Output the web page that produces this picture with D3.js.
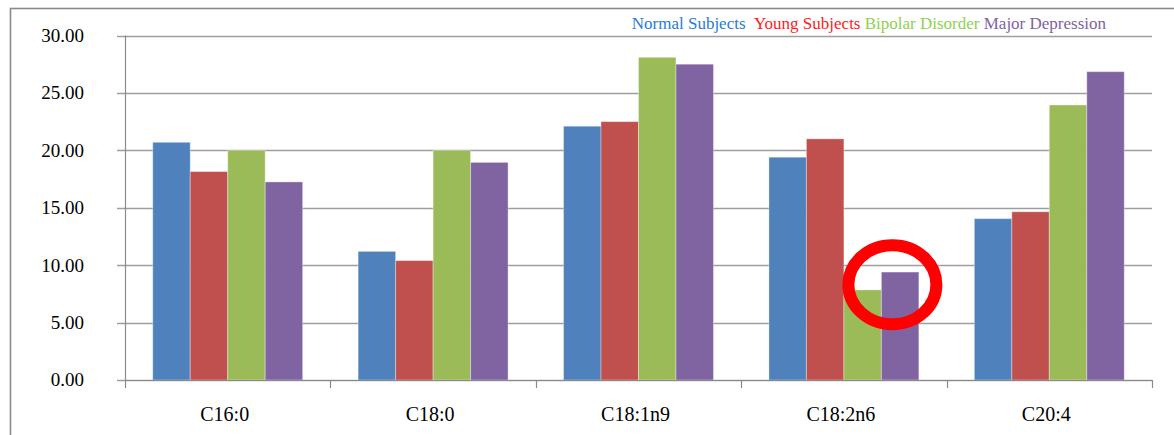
<!DOCTYPE html>
<html>
<head>
<meta charset="utf-8">
<script src="https://cdn.jsdelivr.net/npm/d3@7/dist/d3.min.js"></script>
<style>
  html, body { margin: 0; padding: 0; background: #fff; }
  svg { display: block; }
</style>
</head>
<body>
<svg id="chart" width="1174" height="435"></svg>
<script>
// Fatty acid composition (%) by subject group
const categories = ["C16:0", "C18:0", "C18:1n9", "C18:2n6", "C20:4"];
const seriesNames = ["Normal Subjects", "Young Subjects", "Bipolar Disorder", "Major Depression"];
const normalSubjects   = [20.70, 11.20, 22.10, 19.40, 14.05];
const youngSubjects    = [18.15, 10.40, 22.50, 21.00, 14.65];
const bipolarDisorder  = [20.00, 20.00, 28.10,  7.85, 23.95];
const majorDepression  = [17.25, 18.95, 27.50,  9.40, 26.85];
const yTicks = [0, 5, 10, 15, 20, 25, 30];

// Highlight ring around the C18:2n6 disorder bars
const highlight = { category: "C18:2n6", value: 8.3 };

const seriesValues = [normalSubjects, youngSubjects, bipolarDisorder, majorDepression];
const barColors = ["#4F81BD", "#C0504D", "#9BBB59", "#8064A2"];
const legendColors = ["#2A7BD1", "#FF1A1A", "#8ED14F", "#8064A2"];
const serifFont = "'Liberation Serif', 'Times New Roman', 'DejaVu Serif', serif";

const svg = d3.select("#chart").attr("font-family", serifFont);
const plotLeft = 125, plotRight = 1152, plotTop = 35.5, plotBottom = 380;

// Outer chart frame
svg.append("rect")
  .attr("x", 10.5).attr("y", 8.5)
  .attr("width", 1300).attr("height", 600)
  .attr("fill", "none").attr("stroke", "#8a8a8a").attr("stroke-width", 1.6);

const x0 = d3.scaleBand().domain(categories).range([plotLeft, plotRight]).padding(0);
const x1 = d3.scaleBand().domain(seriesNames).range([0, x0.bandwidth()])
  .paddingInner(0).paddingOuter(0.74);
const y = d3.scaleLinear().domain([0, 30]).range([plotBottom, plotTop]);

// Horizontal gridlines
svg.append("g").selectAll("line").data(yTicks).join("line")
  .attr("x1", plotLeft - 8).attr("x2", plotRight)
  .attr("y1", d => Math.round(y(d)) + 0.5).attr("y2", d => Math.round(y(d)) + 0.5)
  .attr("stroke", "#9e9e9e").attr("stroke-width", 1.3);

// Y-axis line
svg.append("line")
  .attr("x1", plotLeft + 0.5).attr("x2", plotLeft + 0.5)
  .attr("y1", y(30)).attr("y2", plotBottom)
  .attr("stroke", "#8a8a8a").attr("stroke-width", 1.2);

// Y tick labels
svg.append("g").selectAll("text").data(yTicks).join("text")
  .attr("x", 84).attr("y", d => y(d))
  .attr("dy", "0.34em")
  .attr("text-anchor", "end")
  .attr("font-family", serifFont)
  .attr("font-size", 19)
  .attr("fill", "#000")
  .text(d3.format(".2f"));

// Bars
const groups = svg.append("g").selectAll("g").data(categories).join("g")
  .attr("transform", c => `translate(${x0(c)},0)`);
groups.selectAll("rect")
  .data((c, i) => seriesNames.map((s, j) => ({ s, j, v: seriesValues[j][i] })))
  .join("rect")
  .attr("x", d => x1(d.s))
  .attr("width", x1.bandwidth())
  .attr("y", d => y(d.v))
  .attr("height", d => plotBottom - y(d.v))
  .attr("fill", d => barColors[d.j])
  .attr("stroke", "rgba(255,255,255,0.35)")
  .attr("stroke-width", 1);

// X-axis baseline and category boundary ticks
svg.append("line")
  .attr("x1", plotLeft).attr("x2", plotRight)
  .attr("y1", plotBottom + 0.5).attr("y2", plotBottom + 0.5)
  .attr("stroke", "#8a8a8a").attr("stroke-width", 1.2);
const bounds = categories.map(c => x0(c)).concat([plotRight]);
svg.append("g").selectAll("line").data(bounds).join("line")
  .attr("x1", d => Math.round(d) + 0.5).attr("x2", d => Math.round(d) + 0.5)
  .attr("y1", plotBottom).attr("y2", plotBottom + 8)
  .attr("stroke", "#8a8a8a").attr("stroke-width", 1.2);

// Category labels
svg.append("g").selectAll("text").data(categories).join("text")
  .attr("x", c => x0(c) + x0.bandwidth() / 2 - 3)
  .attr("y", 421)
  .attr("text-anchor", "middle")
  .attr("font-family", serifFont)
  .attr("font-size", 20)
  .attr("fill", "#000")
  .text(c => c);

// Legend
const legend = svg.append("text")
  .attr("x", 1106).attr("y", 29)
  .attr("text-anchor", "end")
  .attr("font-family", serifFont)
  .attr("font-size", 17);
seriesNames.forEach((s, j) => {
  legend.append("tspan")
    .attr("fill", legendColors[j])
    .text(s + (j < seriesNames.length - 1 ? (j === 0 ? "\u00a0\u00a0" : "\u00a0") : ""));
});

// Highlight ring
const hx = x0(highlight.category) + x1("Major Depression") + 11;
svg.append("ellipse")
  .attr("cx", hx)
  .attr("cy", y(highlight.value))
  .attr("rx", 44).attr("ry", 39.5)
  .attr("fill", "none")
  .attr("stroke", "#FF0000")
  .attr("stroke-width", 12);
</script>
</body>
</html>
